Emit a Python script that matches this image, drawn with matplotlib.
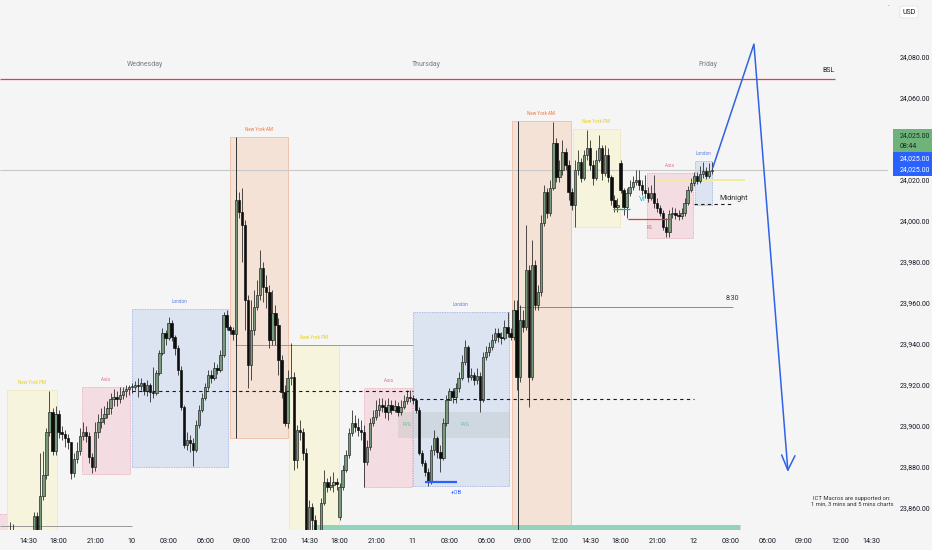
import numpy as np
import matplotlib
matplotlib.use("Agg")
import matplotlib.pyplot as plt
from matplotlib.patches import Rectangle
import matplotlib.transforms as mtransforms

plt.rcParams['font.family'] = ['Roboto', 'DejaVu Sans']

# ---------------- data: 15-minute bars (index 0 = midnight of the 10th) ----------------
first_bar = -43
first_open = 23840.0
gap_bars = [68, 160]            # session re-open bars (18:00)
gap_opens = [23855.6, 24028.3]

closes = [
    23838, 23836, 23840, 23842, 23839, 23834, 23830, 23826, 23829, 23833, 23838,
    23856, 23846, 23866, 23876, 23897, 23907, 23888, 23906, 23897, 23896, 23894, 23892, 23877, 23884, 23888, 23895,
    23897, 23895, 23885, 23880, 23897, 23902, 23904, 23906, 23909, 23913, 23914, 23913, 23915, 23917, 23918, 23919,
    23919.0, 23920.0, 23919.5, 23921.0, 23917.1, 23920.0, 23916.6, 23916.1, 23925.9, 23935.6, 23945.4, 23942.9,
    23950.2, 23943.4, 23938.0, 23927.3, 23909.3, 23890.7, 23893.2, 23891.7, 23888.3, 23900.5, 23907.8, 23913.7,
    23919.0, 23924.9, 23923.4, 23928.3, 23927.3, 23934.6, 23954.1, 23948.3, 23946.8, 23944.9,
    24010.2, 24004.4, 23998.0, 23961.5, 23929.8, 23946.8, 23958.0, 23963.9, 23977.1, 23967.8, 23965.4, 23941.9,
    23955.1, 23949.3, 23932.2, 23916.6, 23901.5, 23923.4, 23923.9, 23883.4, 23898.0, 23897.1, 23886.8, 23845.4,
    23860.5, 23854.1, 23844.4, 23841.9, 23862.4, 23872.7, 23870.2, 23871.2, 23872.7, 23871.7,
    23870.2, 23878.5, 23885.8, 23896.6, 23901.5, 23899.5, 23898.0, 23897.1, 23882.4, 23889.8, 23901.5, 23904.4,
    23907.8, 23910.2, 23909.3, 23906.8, 23910.2, 23907.8, 23909.8, 23906.8, 23909.3, 23912.2, 23914.1, 23913.7,
    23912.7, 23907.8, 23886.8, 23881.9, 23877.6, 23872.7, 23888.3, 23894.1, 23887.3, 23884.4, 23901.5, 23912.7,
    23917.1, 23914.1, 23918.5, 23923.4, 23931.2, 23938.5, 23923.9, 23924.9, 23922.4, 23924.4, 23912.7, 23933.7,
    23936.1, 23938.5, 23941.9, 23945.4, 23943.4, 23942.9, 23948.3, 23945.4, 23943.4, 23956.6,
    23923.9, 23951.7, 23948.3, 23976.1, 23923.9, 23978.5, 23959.0, 23965.4, 23999.0, 24014.1, 24003.9, 24016.1,
    24038.0, 24021.5, 24024.9, 24033.7, 24027.3, 24014.1, 24007.8, 24024.9, 24028.8, 24021.0, 24032.2, 24035.6,
    24027.3, 24021.0, 24029.7, 24035.6, 24023.4, 24032.2, 24021.5, 24010.2, 24006.8, 24007.8,
    24015.1, 24006.8, 24013.7, 24016.6, 24019.0, 24020.0, 24017.6, 24015.1, 24013.7, 24011.2, 24013.7, 24008.8,
    24006.3, 24003.9, 23997.1, 23994.6, 24003.4, 24003.9, 24002.9, 24002.4, 24003.9, 24008.8, 24015.1, 24018.5,
    24021.9, 24019.5, 24022.9, 24024.4, 24021.9, 24024.4, 24025.0,
]

highs = [
    23845, 23843, 23846, 23853, 23852, 23842, 23838, 23834, 23836, 23840, 23845,
    23858, 23858, 23887, 23888, 23899, 23917, 23909, 23910, 23908, 23900, 23898, 23896, 23892, 23887, 23892, 23899,
    23902, 23900, 23897, 23887, 23902, 23906, 23909, 23910, 23912, 23916, 23918, 23917, 23919, 23919, 23920, 23920,
    23921.0, 23921.9, 23923.4, 23923.4, 23921.5, 23922.4, 23921.0, 23928.8, 23927.3, 23937.1, 23947.8, 23946.8,
    23953.2, 23951.7, 23944.4, 23939.5, 23929.3, 23910.2, 23897.1, 23895.6, 23894.1, 23902.9, 23910.2, 23916.1,
    23921.0, 23927.3, 23927.3, 23931.2, 23930.2, 23937.1, 23955.6, 23956.6, 23949.3, 23948.3,
    24015.1, 24014.1, 24016.1, 24000.5, 23963.9, 23961.5, 23966.3, 23971.2, 23985.9, 23980.0, 23973.6, 23968.8,
    23966.3, 23959.0, 23952.7, 23934.6, 23920.0, 23927.3, 23940.5, 23926.3, 23900.5, 23902.9, 23899.0, 23889.3,
    23863.9, 23862.4, 23856.6, 23848.3, 23864.9, 23878.5, 23874.6, 23875.6, 23877.6, 23874.6,
    23872.2, 23880.9, 23888.3, 23899.0, 23907.8, 23905.4, 23903.9, 23902.9, 23900.5, 23893.2, 23903.9, 23907.8,
    23912.7, 23913.7, 23913.7, 23912.7, 23913.7, 23912.7, 23912.7, 23911.7, 23912.7, 23915.1, 23917.6, 23917.6,
    23915.1, 23913.7, 23909.3, 23888.3, 23883.4, 23879.5, 23890.7, 23898.0, 23895.1, 23890.7, 23903.9, 23915.1,
    23918.5, 23918.5, 23921.0, 23926.3, 23934.6, 23941.9, 23939.5, 23928.3, 23926.3, 23928.3, 23926.3, 23936.1,
    23939.0, 23941.0, 23944.9, 23947.8, 23947.8, 23945.9, 23951.7, 23955.6, 23947.8, 23961.5,
    23961.5, 23959.0, 23956.6, 23998.0, 23978.5, 23990.7, 23981.0, 23968.8, 24002.9, 24017.6, 24016.1, 24020.0,
    24048.3, 24040.5, 24029.7, 24039.5, 24035.6, 24029.7, 24016.1, 24029.7, 24034.6, 24030.7, 24034.6, 24044.4,
    24039.5, 24029.7, 24034.6, 24041.9, 24037.1, 24037.1, 24035.6, 24022.4, 24012.7, 24011.2,
    24029.7, 24016.1, 24016.1, 24020.0, 24021.9, 24024.9, 24024.9, 24020.0, 24022.4, 24016.6, 24017.6, 24022.4,
    24011.2, 24007.8, 24005.4, 24001.5, 24005.4, 24006.8, 24006.3, 24005.4, 24006.3, 24011.2, 24017.1, 24021.0,
    24023.9, 24023.9, 24026.8, 24028.8, 24026.3, 24028.3, 24028.8,
]

lows = [
    23832, 23830, 23833, 23836, 23835, 23828, 23824, 23820, 23822, 23827, 23832,
    23836, 23842, 23844, 23864, 23874, 23895, 23886, 23886, 23894, 23893, 23890, 23889, 23874, 23875, 23882, 23886,
    23893, 23892, 23882, 23877, 23878, 23894, 23899, 23901, 23904, 23906, 23910, 23910, 23911, 23913, 23914, 23915,
    23916.1, 23917.6, 23914.1, 23917.6, 23915.1, 23914.6, 23911.7, 23913.7, 23915.1, 23924.9, 23934.6, 23939.5,
    23941.9, 23941.5, 23934.6, 23924.9, 23907.8, 23889.3, 23888.3, 23887.3, 23880.5, 23887.3, 23899.0, 23906.8,
    23912.7, 23917.6, 23921.0, 23922.4, 23925.4, 23926.3, 23933.7, 23946.8, 23944.9, 23941.9,
    23939.5, 24001.5, 23980.0, 23946.8, 23918.5, 23922.4, 23944.4, 23956.6, 23961.5, 23960.5, 23957.6, 23938.0,
    23939.5, 23939.5, 23924.9, 23913.7, 23900.0, 23899.0, 23920.0, 23878.5, 23879.5, 23893.2, 23883.4, 23837.1,
    23843.4, 23846.8, 23840.5, 23838.5, 23840.5, 23861.5, 23867.8, 23868.8, 23867.8, 23868.8,
    23854.1, 23868.8, 23877.6, 23884.4, 23895.1, 23897.1, 23895.1, 23893.2, 23870.2, 23880.9, 23888.3, 23900.0,
    23902.9, 23904.9, 23906.8, 23903.9, 23902.9, 23905.8, 23906.8, 23904.9, 23905.4, 23908.3, 23910.7, 23911.7,
    23910.7, 23906.3, 23885.8, 23880.5, 23875.6, 23870.7, 23871.7, 23885.8, 23884.4, 23877.6, 23883.4, 23900.0,
    23912.7, 23911.2, 23911.2, 23916.6, 23922.4, 23929.8, 23921.5, 23922.4, 23920.0, 23920.5, 23906.8, 23911.7,
    23932.2, 23934.1, 23937.1, 23940.5, 23941.0, 23940.0, 23941.9, 23943.4, 23941.9, 23941.9,
    23917.6, 23921.5, 23945.9, 23946.8, 23909.3, 23922.4, 23956.6, 23956.6, 23963.4, 23997.6, 24001.5, 24002.4,
    24015.1, 24019.0, 24019.0, 24022.4, 24024.9, 24010.2, 24005.4, 23997.1, 24022.4, 24019.0, 24020.0, 24029.7,
    24024.9, 24017.6, 24020.0, 24028.8, 24020.0, 24021.9, 24019.0, 24007.8, 24004.4, 24004.4,
    24013.7, 24002.9, 24001.5, 24012.2, 24015.1, 24017.6, 24015.1, 24012.7, 24011.2, 24009.3, 24010.2, 24006.3,
    24004.4, 24002.4, 23995.6, 23992.2, 23992.2, 24001.5, 24001.0, 24000.5, 24001.0, 24002.4, 24007.8, 24014.1,
    24017.1, 24018.0, 24018.5, 24021.0, 24020.5, 24021.0, 24022.9,
]

tick_bars = [-34, -24, -12, 0, 12, 24, 36, 48, 58, 68, 80, 92, 104, 116, 128, 140, 150,
             160, 172, 184, 196, 208, 220, 232, 242]
tick_labels = ['14:30', '18:00', '21:00', '10', '03:00', '06:00', '09:00', '12:00', '14:30',
               '18:00', '21:00', '11', '03:00', '06:00', '09:00', '12:00', '14:30',
               '18:00', '21:00', '12', '03:00', '06:00', '09:00', '12:00', '14:30']
price_ticks = [23860, 23880, 23900, 23920, 23940, 23960, 23980, 24000, 24020, 24060, 24080]
day_names = ['Wednesday', 'Thursday', 'Friday']
day_name_bars = [4.3, 96.3, 188.6]
last_price = 24025.0
last_time_left = '08:44'
bsl_level = 24069.3

# session boxes: label, start bar, end bar, high, low, kind
sessions = [
    ('', -44.0, -40.9, 23857.1, 23820.0, 'asia'),
    ('New York PM', -40.9, -24.6, 23917.6, 23820.0, 'nypm'),
    ('Asia', -16.4, -0.65, 23919.0, 23876.6, 'asia'),
    ('London', 0.0, 31.4, 23957.1, 23880.0, 'london'),
    ('New York AM', 32.1, 51.1, 24041.0, 23894.1, 'nyam'),
    ('New York PM', 51.4, 67.8, 23939.5, 23820.0, 'nypm'),
    ('Asia', 76.0, 91.7, 23918.5, 23870.2, 'asia'),
    ('London', 92.0, 123.4, 23955.6, 23870.7, 'london'),
    ('New York AM', 124.4, 143.7, 24048.8, 23820.0, 'nyam'),
    ('New York PM', 144.4, 159.8, 24044.9, 23997.1, 'nypm'),
    ('Asia', 168.6, 183.7, 24023.4, 23991.7, 'asia'),
    ('London', 184.3, 189.9, 24029.3, 24007.8, 'london'),
]
styles = {
    'asia':   dict(fc='#f3dce2', ec='#e6a1b3', ls=(0, (1, 1)), tc='#ec6f90'),
    'london': dict(fc='#dce4f2', ec='#93aae0', ls=(0, (1, 1)), tc='#5c7fd8'),
    'nyam':   dict(fc='#f5e2d7', ec='#f0bea6', ls='-', tc='#f4743b'),
    'nypm':   dict(fc='#f6f4dc', ec='#efe9bd', ls='-', tc='#e3cf22'),
}

# projection path (bar, price)
proj_bars = [190.2, 203.7, 214.8]
proj_prices = [24025.9, 24086.3, 23878.5]

# ---------------- figure ----------------
BG = '#f5f5f5'
fig = plt.figure(figsize=(9.32, 5.5), dpi=100, facecolor=BG)
ax = fig.add_axes([0, 20 / 550, 888 / 932, 530 / 550])
ax.set_facecolor(BG)
x_left, x_right = -43.2, 247.6
ax.set_xlim(x_left, x_right)
ax.set_ylim(23849.3, 24107.8)
for s in ax.spines.values():
    s.set_visible(False)

# session boxes
for lab, x0, x1, top, bot, kind in sessions:
    st = styles[kind]
    ax.add_patch(Rectangle((x0, bot), x1 - x0, top - bot, facecolor=st['fc'],
                           edgecolor=st['ec'], linestyle=st['ls'], linewidth=0.6, zorder=1))
    if lab:
        ax.text((x0 + x1) / 2, top + 3.6, lab, ha='center', va='center',
                fontsize=3.3, color=st['tc'], zorder=6)

# FVG band
ax.add_patch(Rectangle((87.1, 23894.1), 123.8 - 87.1, 23906.8 - 23894.1,
                       facecolor='#b8c2bf', alpha=0.35, edgecolor='none', zorder=1.5))
for fx in [90.0, 109.0]:
    ax.text(fx, 23900.8, 'FVG', fontsize=3.5, color='#5cc3a5', ha='center', va='center', zorder=6)

# level lines
ax.hlines(last_price, x_left, x_right, color='#c8c8c8', lw=0.8, zorder=1.8)
ax.hlines(bsl_level, x_left, 230.2, color='#f23645', lw=0.9, zorder=4)
ax.text(230.2, bsl_level + 2.2, 'BSL', ha='right', va='bottom', fontsize=5, color='#222', zorder=6)
ax.hlines(23939.5, 33.7, 92, color='#9a9a9a', lw=0.7, zorder=2)
ax.hlines(23958.0, 126.7, 196.8, color='#8a8a8a', lw=0.7, zorder=2)
ax.text(198.8, 23960.6, '8:30', ha='right', va='bottom', fontsize=5, color='#333', zorder=6)
for y, a, b in [(23917.1, 0, 92), (23913.2, 92, 184), (24008.3, 184, 197)]:
    ax.hlines(y, a, b, color='#1a1a1a', lw=0.8, linestyles=(0, (3, 3)), zorder=4)
ax.text(192.5, 24011.2, 'Midnight', ha='left', va='center', fontsize=5.2, color='#333', zorder=6)
ax.hlines(24001.0, 162.4, 176.5, color='#e53935', lw=0.9, zorder=4)
ax.hlines(24005.8, 157.5, 163.1, color='#26a69a', lw=0.9, zorder=4)
ax.hlines(24020.0, 170.6, 200.7, color='#f2ec9c', lw=1.4, zorder=2)
ax.hlines(23872.7, 95.9, 106.4, color='#2962ff', lw=1.6, zorder=4)
ax.text(106.4, 23867.8, '+OB', ha='center', va='center', fontsize=4.2, color='#2962ff', zorder=6)
ax.hlines(23850.7, 59.3, 199.1, color='#93d3bd', lw=3.6, zorder=2)
ax.hlines(23851.2, x_left, 0, color='#9a9a9a', lw=0.7, zorder=2)
ax.text(167.3, 24010.7, 'VI', ha='center', va='center', fontsize=5.5, color='#22b5d6', zorder=6)
ax.text(169.6, 23996.6, 'RS', ha='center', va='center', fontsize=3.3, color='#e5535a', zorder=6)

# vertical session-open lines
ax.vlines(34.05, 23894.1, 24041.0, color='#333', lw=0.7, zorder=2.5)
ax.vlines(126.4, 23820.0, 24048.8, color='#333', lw=0.7, zorder=2.5)

# day names
for name, xb in zip(day_names, day_name_bars):
    ax.text(xb, 24076.1, name, ha='center', va='center', fontsize=5, color='#7a7d86', zorder=6)

# ---------------- candles ----------------
n = len(closes)
xs = np.arange(first_bar, first_bar + n)
opens = [first_open] + list(closes[:-1])
for gb, go in zip(gap_bars, gap_opens):
    opens[gb - first_bar] = go
o = np.array(opens, float)
c = np.array(closes, float)
h = np.array(highs[:n], float)
l = np.array(lows[:n], float)
up = c >= o
ax.vlines(xs, l, h, color='#1e1e1e', lw=0.55, zorder=2.9)
bottoms = np.minimum(o, c)
heights = np.maximum(np.abs(c - o), 0.4)
ax.bar(xs[up], heights[up], bottom=bottoms[up], width=0.78, color='#779a7a',
       edgecolor='#1c1c1c', linewidth=0.45, zorder=3)
ax.bar(xs[~up], heights[~up], bottom=bottoms[~up], width=0.78, color='#0d0d0d',
       edgecolor='#0d0d0d', linewidth=0.45, zorder=3)

# projection path
ax.plot(proj_bars, proj_prices, color='#2f62e8', lw=1.1, zorder=7, solid_capstyle='round')
tip_b, tip_p = proj_bars[-1], proj_prices[-1]
ax.plot([212.8, tip_b, 217.1], [23885.8, tip_p, 23885.4], color='#2f62e8', lw=1.1, zorder=7)

# ICT macros note
ax.text(235.8, 23863.4, 'ICT Macros are supported on:\n1 min, 3 mins and 5 mins charts',
        ha='center', va='center', fontsize=4.2, color='#333', linespacing=1.15, zorder=6)

# ---------------- axes ticks ----------------
ax.set_xticks(tick_bars)
ax.set_xticklabels(tick_labels)
ax.tick_params(axis='x', length=0, pad=5.5, labelsize=5.2, labelcolor='#131722')
ax.yaxis.tick_right()
ax.set_yticks(price_ticks)
ax.set_yticklabels([f'{p:,.2f}' for p in price_ticks])
ax.tick_params(axis='y', length=0, pad=8.5, labelsize=5.0, labelcolor='#131722')

# price-scale labels
trans = mtransforms.blended_transform_factory(fig.transFigure, ax.transData)
ax.add_patch(Rectangle((893 / 932, 24033.7), 39 / 932, 11.2, transform=trans,
                       facecolor='#6fb27a', edgecolor='none', clip_on=False, zorder=8))
ax.add_patch(Rectangle((893 / 932, 24021.9), 39 / 932, 11.8, transform=trans,
                       facecolor='#2962ff', edgecolor='none', clip_on=False, zorder=8))
ax.text(900 / 932, 24041.5, f'{last_price:,.2f}', transform=trans, fontsize=5.0,
        color='#10301a', va='center', ha='left', zorder=9, clip_on=False)
ax.text(900 / 932, 24036.4, last_time_left, transform=trans, fontsize=5.0,
        color='#10301a', va='center', ha='left', zorder=9, clip_on=False)
ax.text(900 / 932, 24030.6, f'{last_price:,.2f}', transform=trans, fontsize=5.0,
        color='white', va='center', ha='left', zorder=9, clip_on=False)
ax.text(900 / 932, 24024.9, f'{last_price:,.2f}', transform=trans, fontsize=5.0,
        color='white', va='center', ha='left', zorder=9, clip_on=False)

fig.text(909 / 932, 1 - 12 / 550, 'USD', ha='center', va='center', fontsize=5, color='#131722',
         bbox=dict(boxstyle='round,pad=0.35', fc='white', ec='#e0e0e0', lw=0.5))
fig.text(888 / 932, 1 - 7 / 550, '·', ha='center', va='center', fontsize=5, color='#555')

fig.savefig('out.png', dpi=100, facecolor=BG)
